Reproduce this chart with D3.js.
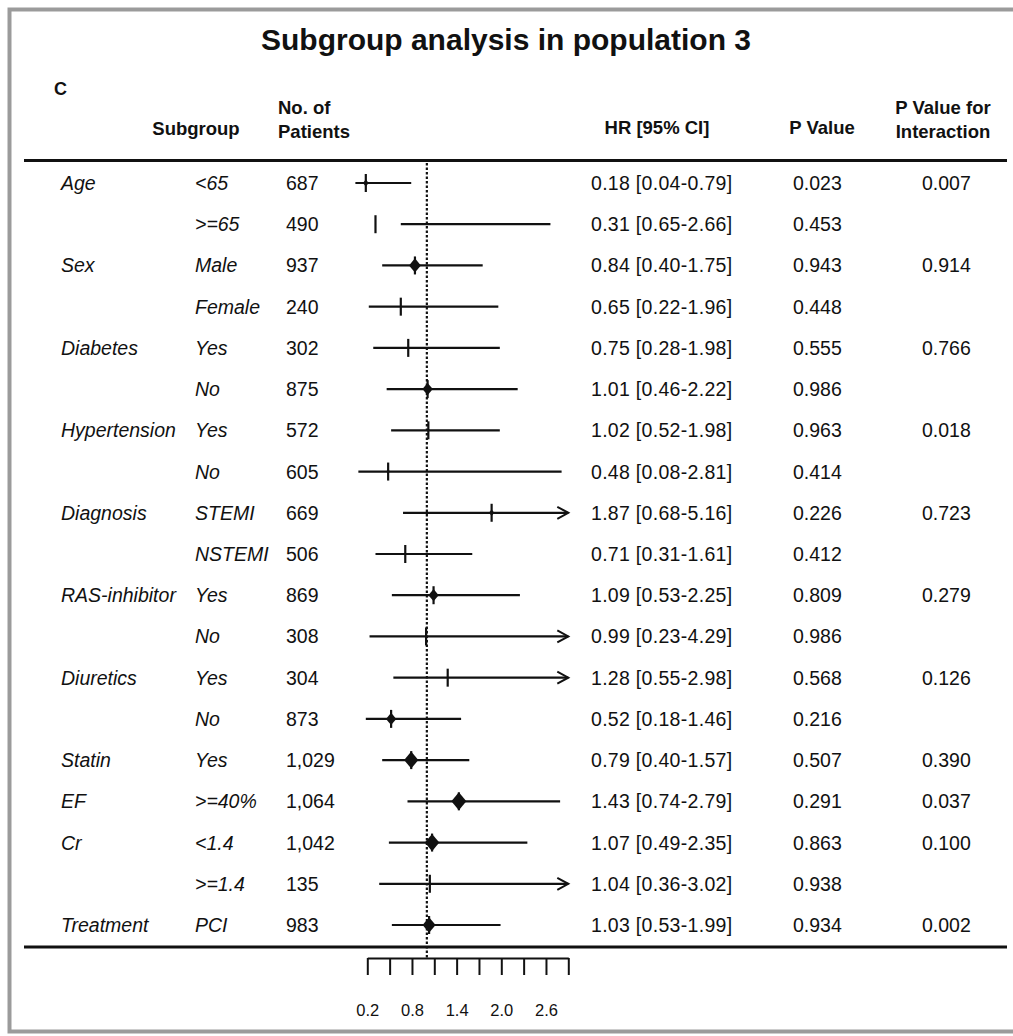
<!DOCTYPE html>
<html>
<head>
<meta charset="utf-8">
<script src="https://cdn.jsdelivr.net/npm/d3@7"></script>
<style>
  html, body { margin: 0; padding: 0; background: #fff; }
  svg { display: block; }
  text { font-family: "Liberation Sans", Arial, sans-serif; fill: #111; }
</style>
</head>
<body>
<script>
// Subgroup forest plot: hazard ratios with 95% confidence intervals
const groups = ["Age", "", "Sex", "", "Diabetes", "", "Hypertension", "", "Diagnosis", "",
  "RAS-inhibitor", "", "Diuretics", "", "Statin", "EF", "Cr", "", "Treatment"];
const subgroups = ["<65", ">=65", "Male", "Female", "Yes", "No", "Yes", "No", "STEMI", "NSTEMI",
  "Yes", "No", "Yes", "No", "Yes", ">=40%", "<1.4", ">=1.4", "PCI"];
const patients = [687, 490, 937, 240, 302, 875, 572, 605, 669, 506, 869, 308, 304, 873, 1029, 1064, 1042, 135, 983];
const hr = [0.18, 0.31, 0.84, 0.65, 0.75, 1.01, 1.02, 0.48, 1.87, 0.71, 1.09, 0.99, 1.28, 0.52, 0.79, 1.43, 1.07, 1.04, 1.03];
const ciLow = [0.04, 0.65, 0.40, 0.22, 0.28, 0.46, 0.52, 0.08, 0.68, 0.31, 0.53, 0.23, 0.55, 0.18, 0.40, 0.74, 0.49, 0.36, 0.53];
const ciHigh = [0.79, 2.66, 1.75, 1.96, 1.98, 2.22, 1.98, 2.81, 5.16, 1.61, 2.25, 4.29, 2.98, 1.46, 1.57, 2.79, 2.35, 3.02, 1.99];
const pValue = ["0.023", "0.453", "0.943", "0.448", "0.555", "0.986", "0.963", "0.414", "0.226", "0.412",
  "0.809", "0.986", "0.568", "0.216", "0.507", "0.291", "0.863", "0.938", "0.934"];
const pInteraction = ["0.007", "", "0.914", "", "0.766", "", "0.018", "", "0.723", "",
  "0.279", "", "0.126", "", "0.390", "0.037", "0.100", "", "0.002"];
const axisTicks = [0.2, 0.5, 0.8, 1.1, 1.4, 1.7, 2.0, 2.3, 2.6, 2.9];
const axisLabels = [0.2, 0.8, 1.4, 2.0, 2.6];

const rows = groups.map((g, i) => ({
  group: g, sub: subgroups[i], n: patients[i], hr: hr[i], lo: ciLow[i], hi: ciHigh[i],
  p: pValue[i], pint: pInteraction[i]
}));

const W = 1013, H = 1036;
const svg = d3.select("body").append("svg").attr("width", W).attr("height", H);

// frame
svg.append("path")
  .attr("d", `M${W + 5},9.5 H9.5 V1031.5 H${W + 5}`)
  .attr("fill", "none").attr("stroke", "#9b9b9b").attr("stroke-width", 4);

const x = d3.scaleLinear().domain([0.2, 2.9]).range([367.3, 568.3]);
const y = d3.scaleLinear().domain([0, rows.length - 1]).range([183, 925]);
const size = d3.scaleLinear().domain([450, 1064]).range([0, 7.5]).clamp(true);

const fs = 19.5;
const col = { group: 61, sub: 195, n: 286, hr: 591, p: 793, pint: 922 };

// title and panel letter
svg.append("text").attr("x", 506).attr("y", 50).attr("text-anchor", "middle")
  .attr("font-size", 30).attr("font-weight", "bold").text("Subgroup analysis in population 3");
svg.append("text").attr("x", 54).attr("y", 95).attr("font-size", 18).attr("font-weight", "bold").text("C");

// column headers
const head = svg.append("g").attr("font-size", 18.5).attr("font-weight", "bold");
head.append("text").attr("x", 196).attr("y", 135).attr("text-anchor", "middle").text("Subgroup");
head.append("text").attr("x", 278).attr("y", 114).text("No. of");
head.append("text").attr("x", 278).attr("y", 138).text("Patients");
head.append("text").attr("x", 657).attr("y", 134).attr("text-anchor", "middle").text("HR [95% CI]");
head.append("text").attr("x", 822).attr("y", 134).attr("text-anchor", "middle").text("P Value");
head.append("text").attr("x", 943).attr("y", 114).attr("text-anchor", "middle").text("P Value for");
head.append("text").attr("x", 943).attr("y", 138).attr("text-anchor", "middle").text("Interaction");

// table rules
svg.append("line").attr("x1", 24).attr("x2", 1007).attr("y1", 160.5).attr("y2", 160.5)
  .attr("stroke", "#111").attr("stroke-width", 3);
svg.append("line").attr("x1", 24).attr("x2", 1007).attr("y1", 947).attr("y2", 947)
  .attr("stroke", "#111").attr("stroke-width", 3);

// text columns
const rowG = svg.append("g").selectAll("g").data(rows).join("g")
  .attr("transform", (d, i) => `translate(0,${y(i) + 7})`)
  .attr("font-size", fs);
rowG.append("text").attr("x", col.group).attr("font-style", "italic").text(d => d.group);
rowG.append("text").attr("x", col.sub).attr("font-style", "italic").text(d => d.sub);
rowG.append("text").attr("x", col.n).text(d => d3.format(",")(d.n));
rowG.append("text").attr("x", col.hr).attr("letter-spacing", 0.3)
  .text(d => `${d.hr.toFixed(2)} [${d.lo.toFixed(2)}-${d.hi.toFixed(2)}]`);
rowG.append("text").attr("x", col.p).text(d => d.p);
rowG.append("text").attr("x", col.pint).text(d => d.pint);

// reference line at HR = 1
svg.append("line").attr("x1", x(1)).attr("x2", x(1)).attr("y1", 163).attr("y2", 958)
  .attr("stroke", "#111").attr("stroke-width", 2.2).attr("stroke-dasharray", "2.5,2");

// confidence intervals and point estimates
const xMax = x.domain()[1];
const mark = svg.append("g").selectAll("g").data(rows).join("g")
  .attr("transform", (d, i) => `translate(0,${y(i)})`);
mark.append("line")
  .attr("x1", d => x(d.lo)).attr("x2", d => x(Math.min(d.hi, xMax)))
  .attr("stroke", "#111").attr("stroke-width", 2.2);
mark.filter(d => d.hi > xMax).append("path")
  .attr("d", `M${x(xMax) - 11},-6 L${x(xMax)},0 L${x(xMax) - 11},6`)
  .attr("fill", "none").attr("stroke", "#111").attr("stroke-width", 2);
mark.append("line")
  .attr("x1", d => x(d.hr)).attr("x2", d => x(d.hr)).attr("y1", -9).attr("y2", 9)
  .attr("stroke", "#111").attr("stroke-width", 2.2);
mark.append("path")
  .attr("d", d => {
    const w = size(d.n), h = w * 1.2, cx = x(d.hr);
    return `M${cx - w},0 L${cx},${-h} L${cx + w},0 L${cx},${h} Z`;
  })
  .attr("fill", "#111");

// axis
const axis = d3.axisBottom(x).tickValues(axisTicks).tickSize(17).tickSizeOuter(0).tickPadding(29)
  .tickFormat(v => axisLabels.some(a => Math.abs(a - v) < 1e-9) ? d3.format(".1f")(v) : "");
const ax = svg.append("g").attr("transform", "translate(0,958)").call(axis);
ax.select(".domain").attr("stroke", "#111").attr("stroke-width", 2);
ax.selectAll(".tick line").attr("stroke", "#111").attr("stroke-width", 2);
ax.selectAll(".tick text").attr("font-size", 16.5).attr("fill", "#1a1a1a")
  .attr("font-family", "Liberation Sans, Arial, sans-serif");
</script>
</body>
</html>
